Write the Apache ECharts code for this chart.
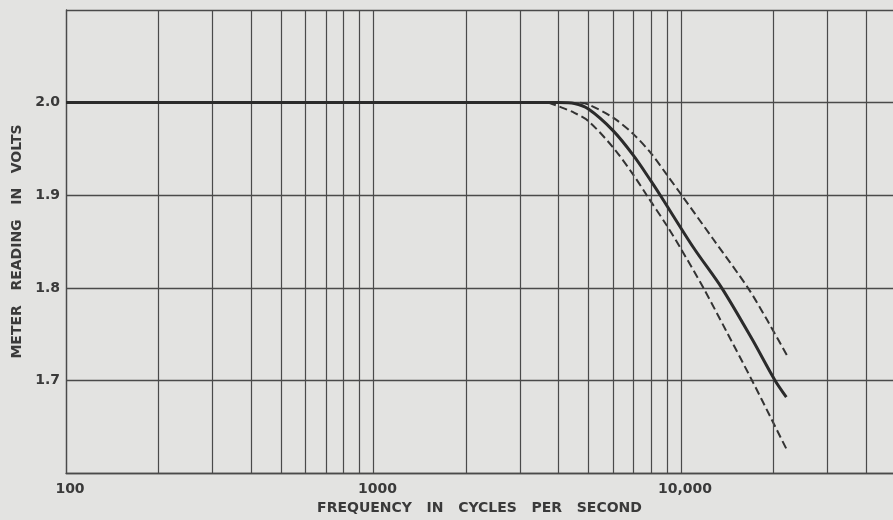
<!DOCTYPE html>
<html>
<head>
<meta charset="utf-8">
<script src="https://cdn.jsdelivr.net/npm/echarts@6/dist/echarts.min.js"></script>
<style>
html,body{margin:0;padding:0;background:#e3e3e1;}
#c{width:893px;height:520px;}
</style>
</head>
<body>
<div id="c"></div>
<script>
// Frequencies (Hz) and meter readings (V)
const solidFreq = [100, 3000, 4000, 4500, 5000, 6000, 7000, 8000, 8560, 11000, 13560, 17000, 20220, 22000];
const solidVolt = [2.0, 2.0, 2.0, 1.999, 1.993, 1.97, 1.943, 1.915, 1.9, 1.843, 1.8, 1.745, 1.7, 1.682];

const upperFreq = [4700, 5000, 6000, 7000, 8000, 9000, 10050, 12700, 16500, 19000, 22200];
const upperVolt = [2.0, 1.998, 1.984, 1.966, 1.945, 1.922, 1.9, 1.853, 1.8, 1.766, 1.726];

const lowerFreq = [3700, 4000, 4500, 5000, 6000, 7000, 7736, 9000, 10000, 11820, 14000, 17020, 19500, 22170];
const lowerVolt = [2.0, 1.996, 1.989, 1.98, 1.952, 1.922, 1.9, 1.867, 1.842, 1.8, 1.754, 1.7, 1.661, 1.624];

// Intermediate vertical grid lines of the log paper
const freqGrid = [200, 300, 400, 500, 600, 700, 800, 900, 2000, 3000, 4000, 5000, 6000, 7000, 8000, 9000, 20000, 30000, 40000];

// Tick labels
const xTickLabels = {100: '100', 1000: '1000', 10000: '10,000'};
const yTickLabels = ['1.7', '1.8', '1.9', '2.0'];

const ink = '#3a3a3a';
const gridColor = '#4a4a4a';
const font = '"DejaVu Sans", sans-serif';

function pairs(xs, ys) { return xs.map((x, i) => [x, ys[i]]); }

const chart = echarts.init(document.getElementById('c'), null, {renderer: 'canvas'});
chart.setOption({
  backgroundColor: '#e3e3e1',
  animation: false,
  grid: {left: 66, top: 10, bottom: 44, right: 0, containLabel: false},
  xAxis: {
    type: 'log',
    logBase: 10,
    min: 100,
    max: 48900,
    name: 'FREQUENCY   IN   CYCLES   PER   SECOND',
    nameLocation: 'middle',
    nameGap: 26,
    nameTextStyle: {color: ink, fontFamily: font, fontSize: 14, fontWeight: 'bold'},
    axisLine: {show: true, lineStyle: {color: gridColor, width: 1.3}},
    axisTick: {show: false},
    axisLabel: {
      color: ink, fontFamily: font, fontSize: 14, fontWeight: 'bold', margin: 9, padding: [0, 0, 0, 8],
      showMaxLabel: false,
      formatter: v => xTickLabels[Math.round(v)] || ''
    },
    splitLine: {show: true, showMaxLine: false, lineStyle: {color: gridColor, width: 1.2}}
  },
  yAxis: {
    type: 'value',
    min: 1.6,
    max: 2.1,
    interval: 0.1,
    name: 'METER   READING   IN   VOLTS',
    nameLocation: 'middle',
    nameGap: 42,
    nameRotate: 90,
    nameTextStyle: {color: ink, fontFamily: font, fontSize: 14, fontWeight: 'bold'},
    axisLine: {show: true, lineStyle: {color: gridColor, width: 1.3}},
    axisTick: {show: false},
    axisLabel: {
      color: ink, fontFamily: font, fontSize: 14, fontWeight: 'bold', margin: 6,
      formatter: v => {
        const s = v.toFixed(1);
        return yTickLabels.indexOf(s) >= 0 ? s : '';
      }
    },
    splitLine: {show: true, lineStyle: {color: gridColor, width: 1.3}}
  },
  series: [
    {
      type: 'line',
      data: pairs(solidFreq, solidVolt),
      smooth: 0.3,
      symbol: 'none',
      z: 5,
      lineStyle: {color: '#2b2b2b', width: 3},
      markLine: {
        silent: true,
        symbol: 'none',
        label: {show: false},
        animation: false,
        lineStyle: {color: gridColor, width: 1.2, type: 'solid'},
        data: freqGrid.map(f => ({xAxis: f}))
      }
    },
    {
      type: 'line',
      data: pairs(upperFreq, upperVolt),
      smooth: 0.3,
      symbol: 'none',
      z: 4,
      lineStyle: {color: '#333', width: 2, type: [8, 4]}
    },
    {
      type: 'line',
      data: pairs(lowerFreq, lowerVolt),
      smooth: 0.3,
      symbol: 'none',
      z: 4,
      lineStyle: {color: '#333', width: 2, type: [8, 4]}
    }
  ]
});
</script>
</body>
</html>
